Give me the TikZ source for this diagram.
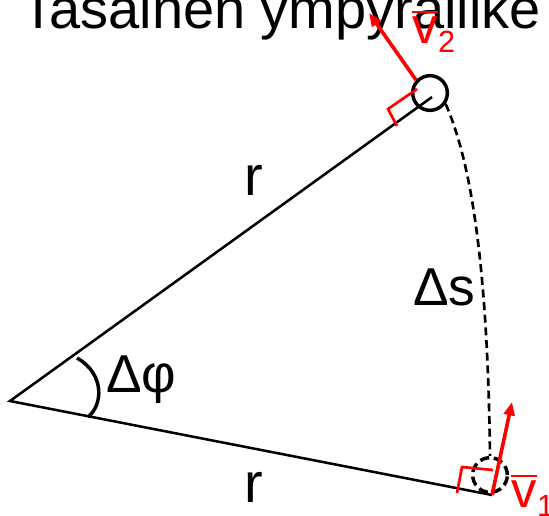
\documentclass[tikz,border=0pt]{standalone}
\usepackage{fontspec}
\setmainfont{Liberation Sans}
\usetikzlibrary{arrows.meta}

\tikzset{
  big/.style={font=\fontsize{42}{46}\selectfont, inner sep=0pt},
  mid/.style={font=\fontsize{40}{44}\selectfont, inner sep=0pt},
  vel/.style={red, line width=2.7pt, -{Triangle[length=10pt,width=8pt]}},
  rangle/.style={red, line width=2pt},
  vlab/.style={red, font=\fontsize{38}{40}\selectfont, inner sep=0pt, anchor=base west},
  vsub/.style={red, font=\fontsize{23}{25}\selectfont, inner sep=0pt, anchor=base west},
  ball/.style={circle, draw, line width=2.6pt, minimum size=26pt, inner sep=0pt}
}

\begin{document}
\begin{tikzpicture}[x=0.75pt,y=-0.75pt]
\useasboundingbox (0,0) rectangle (549,515);
\clip (0,0) rectangle (549,515);
\node[big, anchor=base west] (title) at (21,28) {Tasainen ympyräliike};
\coordinate (O) at (10,401);
\coordinate (A2) at (432,97);
\coordinate (A1) at (492,495);
\coordinate (v2tip) at (369,13);
\coordinate (v1tip) at (512,402);
\draw[line width=1.9pt] (A2) -- (O) -- (A1);
\node[ball] (c2) at (430,93) {};
\node[ball, dash pattern=on 7pt off 3.5pt] (c1) at (490,475) {};
% kaari
\draw[line width=2pt, dash pattern=on 6pt off 3.5pt] (c2.-35) .. controls (475,170) and (488,290) .. (c1.north);
\draw[line width=2.6pt] (77,358) .. controls (105,374) and (103,405) .. (88,417);
% nopeudet
\draw[rangle] (417,89) -- (388,109) -- (397,126);
\draw[rangle] (493,470) -- (462,467) -- (457,493);
\draw[vel] (c2.137) -- (v2tip);
\draw[vel] (A1) -- (v1tip);
\node[big, anchor=base] (r2) at (254,195) {r};
\node[big, anchor=base] (r1) at (254,502) {r};
\node[mid, anchor=base west] (ds) at (413,305) {Δs};
\node[mid, anchor=base west] (dphi) at (106,392) {Δφ};
\node[vlab] (v2) at (412,43) {v};
\node[vsub] (v2n) at ([yshift=-7pt]v2.base east) {2};
\draw[red, line width=2.2pt] ([yshift=3pt]v2.north west) -- ([yshift=3pt]v2.north east);
\node[vlab] (v1) at (511,507) {v};
\node[vsub] (v1n) at ([yshift=-7pt]v1.base east) {1};
\draw[red, line width=2.2pt] ([yshift=3pt]v1.north west) -- ([yshift=3pt]v1.north east);
\end{tikzpicture}
\end{document}
